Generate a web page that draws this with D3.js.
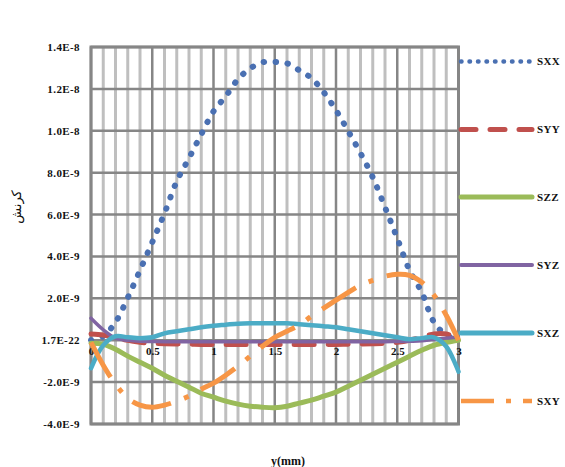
<!DOCTYPE html>
<html>
<head>
<meta charset="utf-8">
<script src="https://cdn.jsdelivr.net/npm/d3@7"></script>
<style>
  html, body { margin: 0; padding: 0; background: #fff; }
  svg { display: block; }
  text { font-family: "Liberation Serif", "DejaVu Serif", serif; font-weight: bold; fill: #111; }
</style>
</head>
<body>
<svg id="chart" width="565" height="467"></svg>
<script>
// ---------------- data ----------------
const xValues = [0,0.1,0.2,0.3,0.4,0.5,0.6,0.7,0.8,0.9,1.0,1.1,1.2,1.3,1.4,1.5,1.6,1.7,1.8,1.9,2.0,2.1,2.2,2.3,2.4,2.5,2.6,2.7,2.8,2.9,3.0];

// values in units of 1E-9
const SXX = [0,0.2,0.86,2.03,3.34,4.68,6.06,7.59,8.69,9.83,10.93,11.65,12.46,12.98,13.27,13.29,13.22,12.89,12.51,11.84,10.98,9.98,8.93,7.78,6.35,4.87,3.34,2.29,0.86,0.24,0];
const SYY = [0.3,0.25,0.1,0,-0.1,-0.15,-0.17,-0.18,-0.19,-0.2,-0.2,-0.2,-0.2,-0.2,-0.2,-0.2,-0.2,-0.2,-0.2,-0.2,-0.2,-0.19,-0.18,-0.17,-0.15,-0.1,0,0.15,0.3,0.3,0.1];
const SZZ = [-0.14,-0.19,-0.43,-0.76,-1.05,-1.34,-1.67,-1.96,-2.24,-2.53,-2.72,-2.91,-3.05,-3.15,-3.2,-3.22,-3.15,-3.0,-2.86,-2.67,-2.48,-2.2,-1.91,-1.62,-1.34,-1.05,-0.76,-0.48,-0.24,-0.1,0];
const SYZ = [1.05,0.5,0.1,0,-0.05,-0.06,-0.07,-0.07,-0.07,-0.07,-0.07,-0.07,-0.07,-0.07,-0.07,-0.07,-0.07,-0.07,-0.07,-0.07,-0.07,-0.07,-0.07,-0.07,-0.07,-0.06,-0.05,-0.03,0.05,0.1,0.15];
const SXZ = [-1.34,-0.24,0.19,0.14,0.1,0.14,0.33,0.43,0.52,0.62,0.69,0.74,0.79,0.81,0.81,0.81,0.81,0.76,0.72,0.67,0.62,0.52,0.43,0.33,0.24,0.14,0.05,0.1,0.14,-0.3,-1.5];
const SXY = [-0.1,-1.19,-2.1,-2.77,-3.1,-3.2,-3.1,-2.91,-2.67,-2.34,-2.05,-1.67,-1.24,-0.76,-0.29,0.14,0.43,0.72,1.15,1.53,1.91,2.29,2.63,2.86,3.05,3.15,3.1,2.77,2.15,1.19,0];

const seriesNames = ["SXX","SYY","SZZ","SYZ","SXZ","SXY"];
const seriesValues = [SXX, SYY, SZZ, SYZ, SXZ, SXY];

const yTickValues = [1.4e-8,1.2e-8,1.0e-8,8.0e-9,6.0e-9,4.0e-9,2.0e-9,0,-2.0e-9,-4.0e-9];
const yTickLabels = ["1.4E-8","1.2E-8","1.0E-8","8.0E-9","6.0E-9","4.0E-9","2.0E-9","1.7E-22","-2.0E-9","-4.0E-9"];
const xTickValues = [0,0.5,1,1.5,2,2.5,3];
const xTickLabels = ["0","0.5","1","1.5","2","2.5","3"];
const xMinorValues = d3.range(0,31).map(i => i/10);

const xTitle = "y(mm)";
const yTitle = "کرنش";

// ---------------- styles ----------------
const styles = {
  SXX: {color:"#4a70b2", width:6, dash:"0.5,11.5", cap:"round", lw:4.5, ldash:"0.5,8"},
  SYY: {color:"#c0504d", width:5, dash:"20,14", cap:"round", lw:5, ldash:"15,14"},
  SZZ: {color:"#9bbb59", width:5, dash:null, cap:"round", lw:5, ldash:null},
  SYZ: {color:"#8064a2", width:3.5, dash:null, cap:"round", lw:4, ldash:null},
  SXZ: {color:"#4bacc6", width:4.5, dash:null, cap:"round", lw:5, ldash:null},
  SXY: {color:"#f79646", width:5, dash:"40,14,5,14", cap:"butt", lw:4.5, ldash:"33,12,5,12"}
};

// ---------------- chart ----------------
const svg = d3.select("#chart");
const x = d3.scaleLinear().domain([0,3]).range([91,458.5]);
const y = d3.scaleLinear().domain([-4e-9,1.4e-8]).range([424,47]);

const grid = svg.append("g");
grid.selectAll("line.minor").data(xMinorValues.filter(v => Math.abs(v*2 - Math.round(v*2)) > 1e-6))
  .enter().append("line")
  .attr("x1", d => x(d)).attr("x2", d => x(d))
  .attr("y1", y(1.4e-8)).attr("y2", y(-4e-9))
  .attr("stroke", "#bfbfbf").attr("stroke-width", 3);
grid.selectAll("line.major").data(xTickValues)
  .enter().append("line")
  .attr("x1", d => x(d)).attr("x2", d => x(d))
  .attr("y1", y(1.4e-8)).attr("y2", y(-4e-9))
  .attr("stroke", "#868686").attr("stroke-width", 2.5);
grid.selectAll("line.h").data(yTickValues)
  .enter().append("line")
  .attr("x1", x(0)).attr("x2", x(3))
  .attr("y1", d => y(d)).attr("y2", d => y(d))
  .attr("stroke", "#868686").attr("stroke-width", 2.5);
grid.append("rect")
  .attr("x", x(0)).attr("y", y(1.4e-8))
  .attr("width", x(3)-x(0)).attr("height", y(-4e-9)-y(1.4e-8))
  .attr("fill", "none").attr("stroke", "#868686").attr("stroke-width", 3);

// y axis labels
const yAxis = d3.axisLeft(y).tickValues(yTickValues)
  .tickFormat((d,i) => yTickLabels[i]).tickSize(0).tickPadding(11);
const yg = svg.append("g").attr("transform", `translate(${x(0)},0)`).call(yAxis);
yg.select(".domain").remove();
yg.selectAll("text").style("font-size","11px").style("font-family","Liberation Serif, serif")
  .style("font-weight","bold").style("letter-spacing","0.4px").attr("fill","#111");

// x axis labels at zero line
const xAxis = d3.axisBottom(x).tickValues(xTickValues)
  .tickFormat((d,i) => xTickLabels[i]).tickSize(0).tickPadding(7);
const xg = svg.append("g").attr("transform", `translate(0,${y(0)})`).call(xAxis);
xg.select(".domain").remove();
xg.selectAll("text").style("font-size","11px").style("font-family","Liberation Serif, serif")
  .style("font-weight","bold").attr("fill","#111");

// series
const line = d3.line()
  .x((d,i) => x(xValues[i]))
  .y(d => y(d*1e-9))
  .curve(d3.curveCatmullRom.alpha(0.5));

seriesNames.forEach((name, k) => {
  const s = styles[name];
  svg.append("path")
    .datum(seriesValues[k])
    .attr("d", line)
    .attr("fill", "none")
    .attr("stroke", s.color)
    .attr("stroke-width", s.width)
    .attr("stroke-linecap", s.cap)
    .attr("stroke-linejoin", "round")
    .attr("stroke-dasharray", s.dash);
});

// legend
const legendY = [61.5, 129.5, 197, 265, 333, 401];
seriesNames.forEach((name, k) => {
  const s = styles[name];
  svg.append("line")
    .attr("x1", 461).attr("x2", 532)
    .attr("y1", legendY[k]).attr("y2", legendY[k])
    .attr("stroke", s.color).attr("stroke-width", s.lw)
    .attr("stroke-linecap", s.cap)
    .attr("stroke-dasharray", s.ldash);
  svg.append("text")
    .attr("x", 537).attr("y", legendY[k]).attr("dy", "0.35em")
    .style("font-size","11px")
    .style("letter-spacing","0.4px")
    .text(name);
});

// titles
svg.append("text")
  .attr("x", 288).attr("y", 465)
  .attr("text-anchor","middle")
  .style("font-size","12px")
  .text(xTitle);

svg.append("text")
  .attr("transform", "translate(21,207) rotate(-90)")
  .attr("text-anchor","middle")
  .style("font-size","13px")
  .style("font-family","DejaVu Sans, Noto Sans, sans-serif")
  .style("font-weight","normal")
  .text(yTitle);
</script>
</body>
</html>
